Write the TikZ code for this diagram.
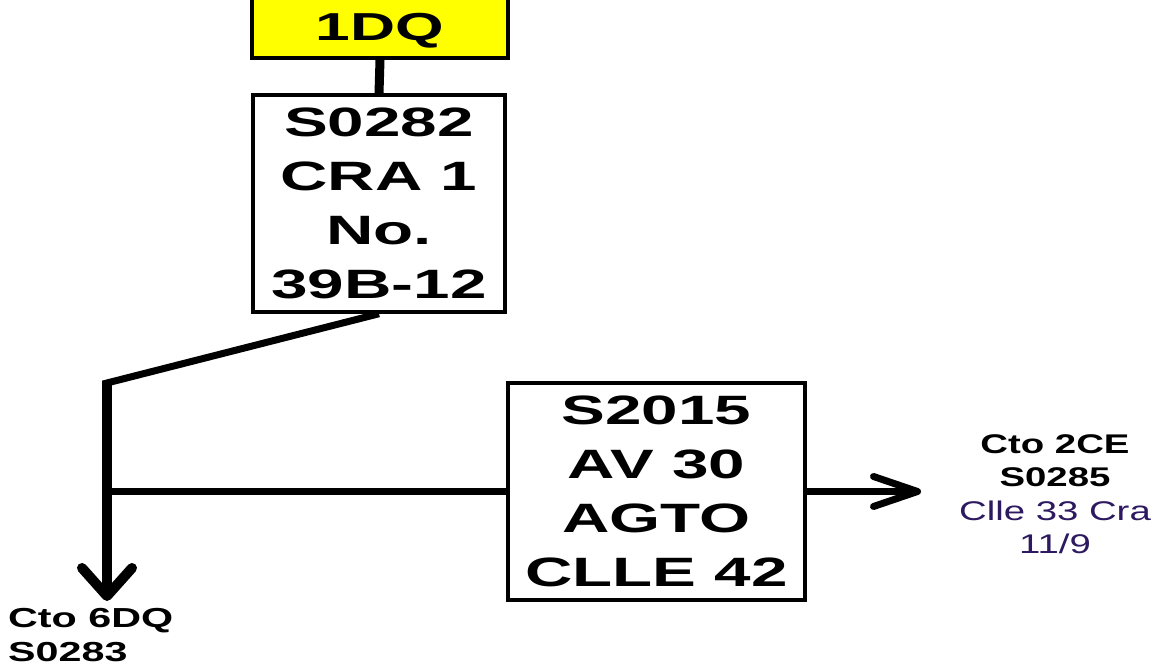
\documentclass[tikz,border=0pt]{standalone}
\usepackage{fontspec}
\usetikzlibrary{arrows.meta}
\newfontfamily\bigf[FakeStretch=1.6]{Liberation Sans}
\newfontfamily\smf[FakeStretch=1.42]{Liberation Sans}
\newfontfamily\smfb[FakeStretch=1.5]{Liberation Sans}
\definecolor{dqyellow}{RGB}{255,255,0}
\definecolor{lblblue}{RGB}{45,25,95}
\begin{document}
\begin{tikzpicture}[x=1pt,y=-1pt,
  box/.style={draw=black,line width=3.5pt,fill=white,align=center,inner sep=0pt,
    font=\bigf\bfseries\fontsize{41}{54}\selectfont},
  conn/.style={line width=7pt,line cap=butt},
  lbl/.style={align=center,inner sep=0pt,font=\smf\fontsize{27}{33.5}\selectfont}]
\clip (0,0) rectangle (1162,668);
\fill[white] (0,0) rectangle (1162,668);
% boxes
\node[box,fill=dqyellow,line width=4pt,minimum width=256pt,text height=63pt,text depth=17pt,anchor=south,
  font=\bigf\bfseries\fontsize{39}{54}\selectfont] (dq) at (380,60) {1DQ};
\node[box,minimum width=252pt,minimum height=217pt] (s0282) at (379,203.5) {S0282\\CRA 1\\No.\\39B-12};
\node[box,minimum width=297pt,minimum height=217pt] (s2015) at (656.5,491.5) {S2015\\AV 30\\AGTO\\CLLE 42};
% labels
\node[lbl] (cto2) at (1055,494) {\bfseries Cto 2CE\\\bfseries S0285\\\color{lblblue}Clle 33 Cra\\\color{lblblue}11/9};
\node[lbl,align=left,anchor=north west,font=\smfb\bfseries\fontsize{27.5}{34}\selectfont] (cto6) at (8,608) {Cto 6DQ\\S0283};
% junctions
\coordinate (j1) at (107,381);
\coordinate (j1l) at (103,384);
\coordinate (j2) at (j1 |- s2015.west);
\coordinate (tip1) at (107,601);
\coordinate (tipx) at (921,0);
\coordinate (tip2) at (tipx |- s2015.east);
% connectors
\draw[conn,line width=9pt] (dq.south) -- (s0282.north);
\draw[conn] (s0282.south) -- (j1l);
\draw[conn,line width=10pt,-{Straight Barb[length=28pt,width=50pt,round]}] (j1) -- (tip1);
\draw[conn] (j2) -- (s2015.west);
\draw[conn,-{Straight Barb[length=44pt,width=30pt,round]}] (s2015.east) -- (tip2);
\end{tikzpicture}
\end{document}
